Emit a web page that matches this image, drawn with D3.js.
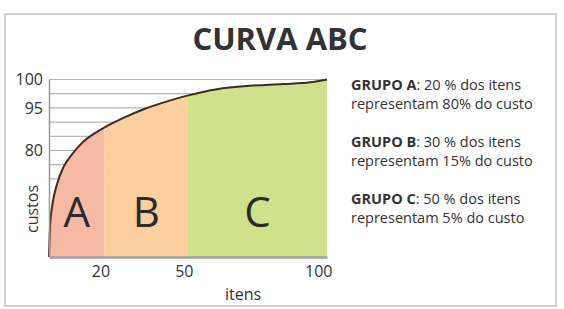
<!DOCTYPE html>
<html>
<head>
<meta charset="utf-8">
<script src="https://cdn.jsdelivr.net/npm/d3@7"></script>
<style>
  body { margin: 0; background: #fff; }
  text { font-family: "Open Sans", sans-serif; fill: #333; }
</style>
</head>
<body>
<div id="chart"></div>
<script>
(function() {

    // curve (itens %, custos %)
    const itens  = [0, 0.4, 1.2, 2.8, 5.1, 8.2, 11.8, 16.5, 20.1, 26.2, 34.5, 42.8, 50.1, 60.4, 72.3, 84.2, 93.9, 100];
    const custos = [0, 24.6, 40, 55.4, 67.9, 77.1, 82.6, 86.1, 88.2, 91.2, 94.7, 96.2, 97.2, 98.3, 98.9, 99.2, 99.5, 100];

    const grupos = ["A", "B", "C"];
    const limites = [0, 20, 50, 100];
    const cores = ["#f6b9a3", "#fccf9f", "#d0e08b"];

    // horizontal grid rows (the picture spaces them evenly)
    const gridValues = [100, 97.5, 95, 90, 85, 80, 70, 60];
    const yTickValues = [100, 95, 80];
    const xTickValues = [20, 50, 100];

    const legenda = [
        {grupo: "GRUPO A", l1: ": 20 % dos itens", l2: "representam 80% do custo"},
        {grupo: "GRUPO B", l1: ": 30 % dos itens", l2: "representam 15% do custo"},
        {grupo: "GRUPO C", l1: ": 50 % dos itens", l2: "representam 5% do custo"},
    ];

    const width = 564;
    const height = 309;
    const margin = {top: 79.5, left: 49, right: 237, bottom: 52};
    const step = 14.2;

    const svg = d3.select("#chart").append("svg")
        .attr("width", width)
        .attr("height", height);

    // frame
    svg.append("rect")
        .attr("x", 5).attr("y", 14)
        .attr("width", 551).attr("height", 292)
        .attr("fill", "#fff")
        .attr("stroke", "#cfcfcf")
        .attr("stroke-width", 2);

    svg.append("text")
        .attr("x", 280).attr("y", 50)
        .attr("text-anchor", "middle")
        .attr("font-size", "31px")
        .attr("font-weight", "bold")
        .style("fill", "#333")
        .text("CURVA ABC");

    const x = d3.scaleLinear()
        .domain([0, 100])
        .range([margin.left, width - margin.right]);

    // piecewise scale: grid rows evenly spaced, 0 at the x axis
    const y = d3.scaleLinear()
        .domain([0, ...gridValues.slice().reverse()])
        .range([height - margin.bottom, ...gridValues.map((d, i) => margin.top + i * step).reverse()]);

    // grid
    svg.append("g")
        .selectAll("line")
        .data(gridValues)
        .join("line")
        .attr("x1", x(0)).attr("x2", x(100))
        .attr("y1", d => y(d)).attr("y2", d => y(d))
        .attr("stroke", "#b4b4b4")
        .attr("stroke-width", 1.2);

    const pts = itens.map((d, i) => ({x: d, y: custos[i]}));

    const area = d3.area()
        .x(d => x(d.x))
        .y0(y(0))
        .y1(d => y(d.y))
        .curve(d3.curveMonotoneX);

    const line = d3.line()
        .x(d => x(d.x))
        .y(d => y(d.y))
        .curve(d3.curveMonotoneX);

    svg.append("clipPath")
        .attr("id", "areaClip")
        .append("path")
        .attr("d", area(pts));

    const regioes = grupos.map((g, i) => ({g: g, x0: limites[i], x1: limites[i + 1], cor: cores[i]}));

    svg.append("g")
        .attr("clip-path", "url(#areaClip)")
        .selectAll("rect")
        .data(regioes)
        .join("rect")
        .attr("x", d => x(d.x0))
        .attr("width", d => x(d.x1) - x(d.x0))
        .attr("y", y(100) - 5)
        .attr("height", y(0) - y(100) + 5)
        .attr("fill", d => d.cor);

    svg.append("g")
        .selectAll("text")
        .data(regioes)
        .join("text")
        .attr("x", d => (x(d.x0) + x(d.x1)) / 2)
        .attr("y", 227)
        .attr("text-anchor", "middle")
        .attr("font-size", "42px")
        .style("fill", "#2a2a2a")
        .text(d => d.g);

    svg.append("path")
        .attr("d", line(pts))
        .attr("fill", "none")
        .attr("stroke", "#3a2c28")
        .attr("stroke-width", 2);

    // axes
    const yAxis = g => g
        .attr("transform", `translate(${x(0)},0)`)
        .call(d3.axisLeft(y).tickValues(yTickValues).tickSize(0).tickPadding(6))
        .attr("font-size", "16px")
        .attr("font-family", null)
        .call(g => g.select(".domain").attr("stroke", "#9a9a9a").attr("stroke-width", 1.5))
        .call(g => g.selectAll("text").style("fill", "#333"));

    const xAxis = g => g
        .attr("transform", `translate(0,${y(0)})`)
        .call(d3.axisBottom(x).tickValues(xTickValues).tickSize(0).tickPadding(9).tickSizeOuter(0))
        .attr("font-size", "16px")
        .attr("font-family", null)
        .call(g => g.select(".domain").attr("stroke", "#a0a0a0").attr("stroke-width", 2.5))
        .call(g => g.selectAll("text").attr("text-anchor", "end").attr("dx", 5).style("fill", "#333"));

    svg.append("g").call(yAxis);
    svg.append("g").call(xAxis);

    svg.append("text")
        .attr("x", 243).attr("y", 300)
        .attr("text-anchor", "middle")
        .attr("font-size", "16px")
        .text("itens");

    svg.append("text")
        .attr("transform", "translate(38,209) rotate(-90)")
        .attr("text-anchor", "middle")
        .attr("font-size", "16px")
        .text("custos");

    // legend text on the right
    const leg = svg.append("g")
        .selectAll("g")
        .data(legenda)
        .join("g")
        .attr("transform", (d, i) => `translate(351,${90 + i * 57})`);

    const l1 = leg.append("text")
        .attr("font-size", "14.5px");
    l1.append("tspan").attr("font-weight", "bold").text(d => d.grupo);
    l1.append("tspan").text(d => d.l1);

    leg.append("text")
        .attr("y", 19)
        .attr("font-size", "14.5px")
        .text(d => d.l2);

})();
</script>
</body>
</html>
